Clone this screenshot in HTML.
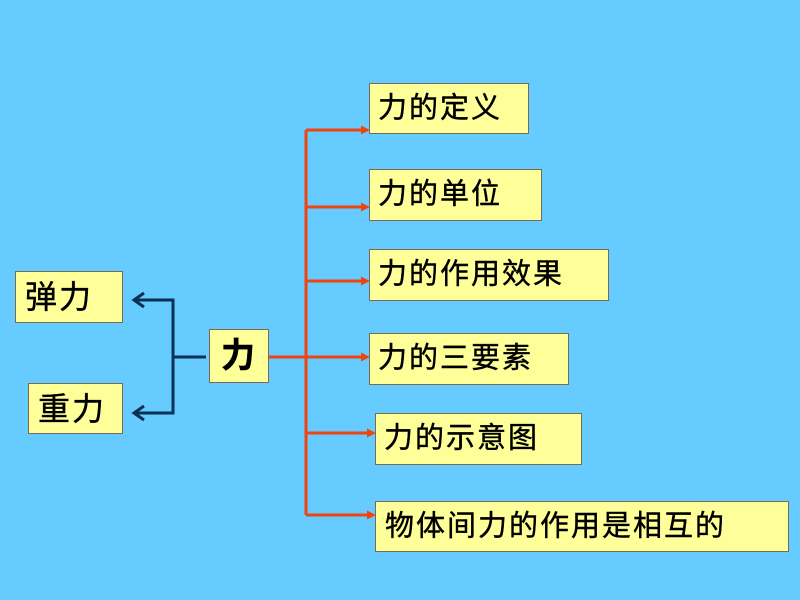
<!DOCTYPE html>
<html><head><meta charset="utf-8"><style>
html,body{margin:0;padding:0;}
body{width:800px;height:600px;background:#66ccff;position:relative;overflow:hidden;font-family:"Liberation Sans","Noto Sans CJK SC","WenQuanYi Zen Hei",sans-serif;}
.b{position:absolute;box-sizing:border-box;background:#ffff99;border:1px solid #7a6a55;color:#000;font-size:29px;line-height:1;white-space:nowrap;letter-spacing:2px;-webkit-text-stroke:0.4px #000;}
.b span{position:absolute;left:8px;top:50%;transform:translateY(-50%);}
svg{position:absolute;left:0;top:0;}
</style></head><body>
<svg width="800" height="600" viewBox="0 0 800 600">
  <g stroke="#0b2f55" stroke-width="3" fill="none" stroke-linejoin="miter">
    <polyline points="134,300 173,300 173,413 134,413"/>
    <line x1="173" y1="357" x2="206" y2="357"/>
    <polyline points="144,293 134,300 144,307"/>
    <polyline points="144,406 134,413 144,420"/>
  </g>
  <g stroke="#ee4411" stroke-width="3" fill="none">
    <line x1="269" y1="357" x2="306" y2="357"/>
    <line x1="306" y1="130" x2="306" y2="515"/>
    <line x1="306" y1="130" x2="363" y2="130"/>
    <line x1="306" y1="207" x2="363" y2="207"/>
    <line x1="306" y1="281" x2="363" y2="281"/>
    <line x1="306" y1="357" x2="363" y2="357"/>
    <line x1="306" y1="433" x2="369" y2="433"/>
    <line x1="306" y1="515" x2="369" y2="515"/>
  </g>
  <g fill="#ee4411">
    <polygon points="361,125.5 370,130 361,134.5"/>
    <polygon points="361,202.5 370,207 361,211.5"/>
    <polygon points="361,276.5 370,281 361,285.5"/>
    <polygon points="361,352.5 370,357 361,361.5"/>
    <polygon points="367,428.5 376,433 367,437.5"/>
    <polygon points="367,510.5 376,515 367,519.5"/>
  </g>
</svg>

<div class="b" style="left:15px;top:271px;width:108px;height:52px;font-size:32px;"><span style="left:9px;">弹力</span></div>
<div class="b" style="left:28px;top:383px;width:95px;height:51px;font-size:32px;"><span style="left:9px;">重力</span></div>
<div class="b" style="left:209px;top:329px;width:60px;height:54px;font-size:34px;font-weight:bold;"><span style="left:11px;letter-spacing:0;">力</span></div>

<div class="b" style="left:369px;top:83px;width:160px;height:51px;"><span>力的定义</span></div>
<div class="b" style="left:369px;top:169px;width:173px;height:52px;"><span>力的单位</span></div>
<div class="b" style="left:369px;top:249px;width:240px;height:52px;"><span>力的作用效果</span></div>
<div class="b" style="left:369px;top:333px;width:200px;height:52px;"><span>力的三要素</span></div>
<div class="b" style="left:375px;top:413px;width:207px;height:52px;"><span>力的示意图</span></div>
<div class="b" style="left:375px;top:501px;width:414px;height:51px;"><span style="left:9px;">物体间力的作用是相互的</span></div>
</body></html>
